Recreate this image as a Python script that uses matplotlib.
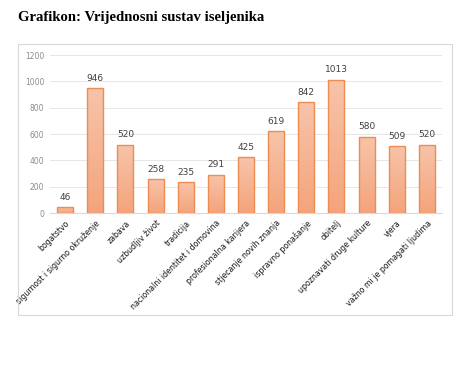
import numpy as np
import matplotlib
matplotlib.use("Agg")
import matplotlib.pyplot as plt
from matplotlib.patches import Rectangle
from matplotlib.colors import LinearSegmentedColormap

categories = ["bogatstvo", "sigurnost i sigurno okruženje", "zabava", "uzbudljiv život",
              "tradicija", "nacionalni identitet i domovina", "profesionalna karijera",
              "stjecanje novih znanja", "ispravno ponašanje", "obitelj",
              "upoznavati druge kulture", "vjera", "važno mi je pomagati ljudima"]
values = [46, 946, 520, 258, 235, 291, 425, 619, 842, 1013, 580, 509, 520]
yticks = [0, 200, 400, 600, 800, 1000, 1200]

fig = plt.figure(figsize=(4.77, 3.73), dpi=100)
fig.text(18/477, 1 - 18/373, "Grafikon: Vrijednosni sustav iseljenika",
         family="Liberation Serif", fontweight="bold", fontsize=10.6, va="center", ha="left")
fig.patches.append(Rectangle((18/477, 1 - 315/373), (452-18)/477, (315-44)/373,
                             transform=fig.transFigure, fill=False, edgecolor="#d9d9d9", lw=0.8))

ax = fig.add_axes([50/477, 1 - 213/373, (442-50)/477, (213-55)/373])
x = np.arange(len(values))
bars = ax.bar(x, values, width=0.53, color="none", edgecolor="#ef8c52", lw=1.0, zorder=3)

# vertical gradient fill, like the original spreadsheet chart
cmap = LinearSegmentedColormap.from_list("peach", ["#f4a47c", "#f7c4aa"])
grad = np.linspace(0, 1, 100).reshape(-1, 1)
for b in bars:
    xb, w, h = b.get_x(), b.get_width(), b.get_height()
    im = ax.imshow(grad, cmap=cmap, origin="lower", aspect="auto",
                   extent=[xb, xb + w, 0, h], zorder=2)
    im.set_clip_path(b)
    ax.text(xb + w/2, h + 40, str(int(h)), ha="center", va="bottom",
            fontsize=6.5, color="#404040")

ax.set_xlim(-0.5, len(values) - 0.5)
ax.set_ylim(0, 1200)
ax.set_yticks(yticks)
ax.set_yticklabels([str(t) for t in yticks], fontsize=5.5, color="#8c8c8c")
ax.set_xticks(x)
ax.set_xticklabels(categories, rotation=45, ha="right", rotation_mode="anchor",
                   fontsize=5.7, color="#1a1a1a")
ax.tick_params(length=0, pad=4)
ax.grid(axis="y", color="#e6e6e6", lw=0.7, zorder=0)
for s in ["top", "right", "left"]:
    ax.spines[s].set_visible(False)
ax.spines["bottom"].set_color("#d9d9d9")

fig.savefig("out.png", dpi=100)
